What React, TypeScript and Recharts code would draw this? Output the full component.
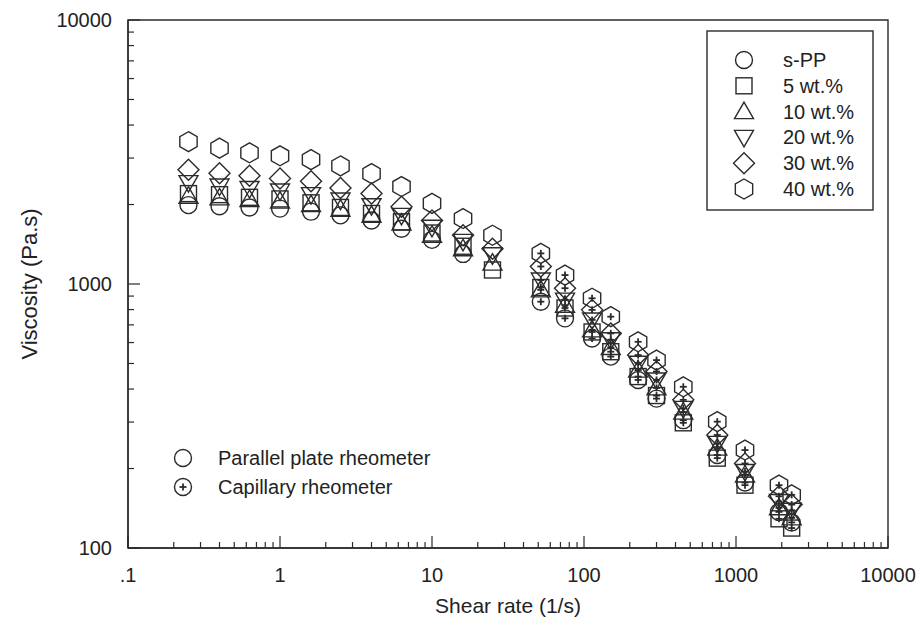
import React from "react";
import { ScatterChart, Scatter, XAxis, YAxis, ReferenceArea } from "recharts";

// shear rates (1/s)
const plateRate = [0.25, 0.4, 0.63, 1, 1.6, 2.5, 4, 6.3, 10, 16, 25];
const capRate = [52, 75, 113, 150, 227, 300, 450, 753, 1146, 1918, 2324];

// viscosity (Pa.s), parallel plate rheometer
const plateSPP = [1990, 1970, 1950, 1930, 1880, 1820, 1740, 1620, 1470, 1300, null];
const plate5 = [2200, 2180, 2130, 2100, 2030, 1950, 1850, 1720, 1560, 1390, 1130];
const plate10 = [2150, 2120, 2090, 2060, 2000, 1920, 1820, 1700, 1530, 1360, 1200];
const plate20 = [2420, 2350, 2300, 2250, 2180, 2080, 1980, 1820, 1640, 1450, 1290];
const plate30 = [2710, 2625, 2570, 2510, 2450, 2310, 2200, 1960, 1740, 1530, 1360];
const plate40 = [3460, 3270, 3140, 3060, 2960, 2800, 2620, 2340, 2020, 1770, 1530];

// viscosity (Pa.s), capillary rheometer
const capSPP = [857, 741, 622, 531, 433, 368, 305, 225, 177, 137, 125];
const cap5 = [970, 811, 658, 554, 446, 378, 298, 219, 173, 129, 119];
const cap10 = [950, 831, 670, 575, 472, 404, 327, 239, 189, 142, 130];
const cap20 = [1035, 869, 731, 615, 501, 433, 338, 249, 195, 150, 139];
const cap30 = [1165, 964, 798, 650, 538, 466, 364, 268, 209, 157, 146];
const cap40 = [1306, 1081, 883, 752, 604, 515, 408, 301, 235, 173, 159];

const xMajor = [0.1, 1, 10, 100, 1000, 10000];
const xLabels = [".1", "1", "10", "100", "1000", "10000"];
const yMajor = [100, 1000, 10000];
const yLabels = ["100", "1000", "10000"];

type Kind = "circle" | "square" | "up" | "down" | "diamond" | "hex";

const INK = "#2b2b2b";
const FONT = "'Liberation Sans', Arial, sans-serif";

const groups: { name: string; kind: Kind; plate: (number | null)[]; cap: number[] }[] = [
  { name: "s-PP", kind: "circle", plate: plateSPP, cap: capSPP },
  { name: "5 wt.%", kind: "square", plate: plate5, cap: cap5 },
  { name: "10 wt.%", kind: "up", plate: plate10, cap: cap10 },
  { name: "20 wt.%", kind: "down", plate: plate20, cap: cap20 },
  { name: "30 wt.%", kind: "diamond", plate: plate30, cap: cap30 },
  { name: "40 wt.%", kind: "hex", plate: plate40, cap: cap40 },
];

const toPoints = (rates: number[], vals: (number | null)[]) =>
  rates.map((x, i) => ({ x, y: vals[i] })).filter((p) => p.y != null);

const minorTicks = (majors: number[]) => {
  const out: number[] = [];
  majors.slice(0, -1).forEach((m) => {
    for (let k = 1; k < 10; k++) out.push(+(m * k).toPrecision(6));
  });
  out.push(majors[majors.length - 1]);
  return out;
};

const xTicks = minorTicks(xMajor);
const yTicks = minorTicks(yMajor);

const Marker = ({ kind, cx, cy, plus }: { kind: Kind; cx: number; cy: number; plus?: boolean }) => {
  const st = { fill: "none", stroke: INK, strokeWidth: 1.4 };
  let shape: React.ReactNode = null;
  if (kind === "circle") shape = <circle cx={cx} cy={cy} r={8.5} {...st} />;
  if (kind === "square") shape = <rect x={cx - 8} y={cy - 8} width={16} height={16} {...st} />;
  if (kind === "up")
    shape = <polygon points={`${cx},${cy - 9.5} ${cx - 9.5},${cy + 7} ${cx + 9.5},${cy + 7}`} {...st} />;
  if (kind === "down")
    shape = <polygon points={`${cx},${cy + 9.5} ${cx - 9.5},${cy - 7} ${cx + 9.5},${cy - 7}`} {...st} />;
  if (kind === "diamond")
    shape = <polygon points={`${cx},${cy - 10.5} ${cx + 10.5},${cy} ${cx},${cy + 10.5} ${cx - 10.5},${cy}`} {...st} />;
  if (kind === "hex") {
    const r = 10;
    const pts = [90, 30, -30, -90, -150, 150]
      .map((a) => `${cx + r * Math.cos((a * Math.PI) / 180)},${cy - r * Math.sin((a * Math.PI) / 180)}`)
      .join(" ");
    shape = <polygon points={pts} {...st} />;
  }
  return (
    <g>
      {shape}
      {plus && (
        <g stroke={INK} strokeWidth={1.8}>
          <line x1={cx - 3.5} x2={cx + 3.5} y1={cy} y2={cy} />
          <line x1={cx} x2={cx} y1={cy - 3.5} y2={cy + 3.5} />
        </g>
      )}
    </g>
  );
};

const XTick = (props: any) => {
  const { x, y, payload } = props;
  const v = payload.value as number;
  const idx = xMajor.findIndex((m) => Math.abs(m - v) < 1e-9 * m);
  const major = idx >= 0;
  return (
    <g>
      <line x1={x} x2={x} y1={y} y2={y - (major ? 12 : 6)} stroke={INK} strokeWidth={1.2} />
      {major && (
        <text x={x} y={y + 34} textAnchor="middle" fontSize={20} fill="#222" fontFamily={FONT}>
          {xLabels[idx]}
        </text>
      )}
    </g>
  );
};

const YTick = (props: any) => {
  const { x, y, payload } = props;
  const v = payload.value as number;
  const idx = yMajor.findIndex((m) => Math.abs(m - v) < 1e-9 * m);
  const major = idx >= 0;
  return (
    <g>
      <line x1={x} x2={x + (major ? 12 : 6)} y1={y} y2={y} stroke={INK} strokeWidth={1.2} />
      {major && (
        <text x={x - 16} y={y + 7} textAnchor="end" fontSize={20} fill="#222" fontFamily={FONT}>
          {yLabels[idx]}
        </text>
      )}
    </g>
  );
};

const App = () => {
  return (
    <div style={{ position: "absolute", left: 0, top: 0, width: 923, height: 634, background: "#fff" }}>
      <ScatterChart width={923} height={634} margin={{ top: 20, right: 35, bottom: 0, left: 0 }}>
        <XAxis
          type="number"
          dataKey="x"
          scale="log"
          domain={[0.1, 10000]}
          ticks={xTicks}
          interval={0}
          tickSize={0}
          tickMargin={0}
          tick={<XTick />}
          height={86}
          axisLine={{ stroke: INK, strokeWidth: 1.4 }}
          allowDataOverflow
        />
        <YAxis
          type="number"
          dataKey="y"
          scale="log"
          domain={[100, 10000]}
          ticks={yTicks}
          interval={0}
          tickSize={0}
          tickMargin={0}
          tick={<YTick />}
          width={128}
          axisLine={{ stroke: INK, strokeWidth: 1.4 }}
          allowDataOverflow
        />
        <ReferenceArea x1={0.1} x2={10000} y1={100} y2={10000} fill="none" stroke={INK} strokeWidth={1.4} ifOverflow="visible" />
        {groups.map((g) => (
          <Scatter
            key={g.name + "-plate"}
            data={toPoints(plateRate, g.plate)}
            isAnimationActive={false}
            shape={(p: any) => <Marker kind={g.kind} cx={p.cx} cy={p.cy} />}
          />
        ))}
        {groups.map((g) => (
          <Scatter
            key={g.name + "-cap"}
            data={toPoints(capRate, g.cap)}
            isAnimationActive={false}
            shape={(p: any) => <Marker kind={g.kind} cx={p.cx} cy={p.cy} plus />}
          />
        ))}
      </ScatterChart>
      <svg
        width={923}
        height={634}
        style={{ position: "absolute", left: 0, top: 0, pointerEvents: "none" }}
        fontFamily={FONT}
        fill="#222"
      >
        <text x={508} y={613} textAnchor="middle" fontSize={21}>
          Shear rate (1/s)
        </text>
        <text x={37} y={284} textAnchor="middle" fontSize={22} transform="rotate(-90 37 284)">
          Viscosity (Pa.s)
        </text>
        <rect x={707} y={31} width={166} height={179} fill="none" stroke={INK} strokeWidth={1.4} />
        {groups.map((g, i) => (
          <g key={g.name}>
            <Marker kind={g.kind} cx={744} cy={60 + i * 25.8} />
            <text x={783} y={60 + i * 25.8 + 7} fontSize={20}>
              {g.name}
            </text>
          </g>
        ))}
        <Marker kind="circle" cx={183} cy={458} />
        <text x={218} y={465} fontSize={20}>
          Parallel plate rheometer
        </text>
        <Marker kind="circle" cx={183} cy={487} plus />
        <text x={218} y={494} fontSize={20}>
          Capillary rheometer
        </text>
      </svg>
    </div>
  );
};

export default App;
